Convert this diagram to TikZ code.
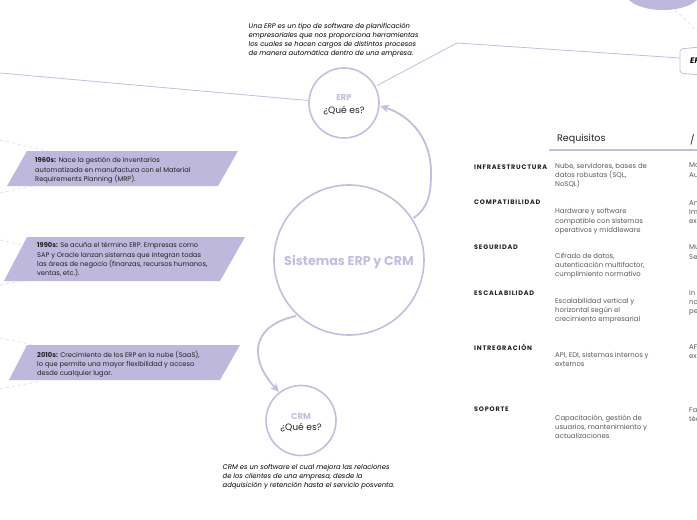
\documentclass[tikz,border=0pt]{standalone}
\usepackage{fontspec}
\setmainfont{Poppins}
\usetikzlibrary{arrows.meta}
\definecolor{lav}{HTML}{BDB8DC}
\definecolor{lavd}{HTML}{C3BEE0}
\definecolor{ink}{HTML}{222222}
\definecolor{soft}{HTML}{E4E2F0}
\tikzset{
  x=1pt,y=-1pt,
  ring/.style={circle,draw=lavd,line width=1.6pt,fill=white,inner sep=0pt,align=center},
  link/.style={draw=lavd,line width=0.8pt},
  curved/.style={draw=lavd,line width=1.8pt},
  tail/.style={draw=soft,line width=0.8pt,dashed},
  para/.style={fill=lav,draw=none},
  body/.style={anchor=north west,inner sep=0pt,align=left,font=\fontsize{6.7}{9.1}\selectfont,text=ink},
  ital/.style={body,font=\fontsize{6.77}{9.1}\selectfont\itshape,text=black},
  rowhead/.style={anchor=north west,inner sep=0pt,font=\fontsize{6.5}{9}\selectfont\bfseries\addfontfeature{LetterSpace=12},text=ink},
  cell/.style={anchor=north west,inner sep=0pt,align=left,font=\fontsize{6.9}{9.1}\selectfont,text=black!65},
}
\begin{document}
\begin{tikzpicture}
\useasboundingbox (0,0) rectangle (697,520);
\clip (0,0) rectangle (697,520);
\fill[white] (0,0) rectangle (697,520);
% top right blob
\fill[lav] (663,-8) ellipse (38 and 18);
\coordinate (t1a) at (675,10); \coordinate (t1b) at (697,31);
\draw[tail] (t1a) -- (t1b);
% left tails
\coordinate (la) at (0,140); \coordinate (lb) at (48,151);
\coordinate (lc) at (0,193); \coordinate (ld) at (32,186);
\coordinate (le) at (0,240); \coordinate (lf) at (28,246);
\coordinate (lg) at (0,285); \coordinate (lh) at (20,281);
\coordinate (li) at (0,338); \coordinate (lj) at (33,345);
\coordinate (lk) at (0,389); \coordinate (ll) at (42,381);
\draw[tail] (la)--(lb); \draw[tail] (lc)--(ld); \draw[tail] (le)--(lf);
\draw[tail] (lg)--(lh); \draw[tail] (li)--(lj); \draw[tail] (lk)--(ll);
% parallelograms
\fill[para] (27,151)--(238,151)--(218,186)--(7,186)--cycle;
\fill[para] (27,237)--(245,237)--(220,281)--(4,281)--cycle;
\fill[para] (27,345)--(240,345)--(220,380)--(9,380)--cycle;
\node[body] (p1) at (35,157.5) {\textbf{1960s:} Nace la gestión de inventarios\\automatizada en manufactura con el Material\\Requirements Planning (MRP).};
\node[body] (p2) at (37,242.5) {\textbf{1990s:} Se acuña el término ERP. Empresas como\\SAP y Oracle lanzan sistemas que integran todas\\las áreas de negocio (finanzas, recursos humanos,\\ventas, etc.).};
\node[body] (p3) at (37,351) {\textbf{2010s:} Crecimiento de los ERP en la nube (SaaS),\\lo que permite una mayor flexibilidad y acceso\\desde cualquier lugar.};
% circles
\node[ring,minimum size=150pt] (main) at (349,260) {};
\node[ring,minimum size=70pt] (erp) at (344,103) {};
\node[ring,minimum size=70pt] (crm) at (301,420.5) {};
\node[font=\fontsize{12.7}{15}\selectfont\bfseries,text=lavd] (mainl) at (349,262) {Sistemas ERP y CRM};
\node[font=\fontsize{8.5}{11}\selectfont\bfseries,text=lavd] (erpt) at (344,98) {ERP};
\node[font=\fontsize{9.2}{11}\selectfont,text=ink] (erpq) at (344,110.5) {¿Qué es?};
\node[font=\fontsize{8.5}{11}\selectfont\bfseries,text=lavd] (crmt) at (301,416) {CRM};
\node[font=\fontsize{9.2}{11}\selectfont,text=ink] (crmq) at (301,428) {¿Qué es?};
% description texts
\node[ital] (d1) at (248.5,22.7) {Una ERP es un tipo de software de planificación\\empresariales que nos proporciona herramientas\\los cuales se hacen cargos de distintos procesos\\de manera automática dentro de una empresa.};
\node[ital] (d2) at (222.5,464) {CRM es un software el cual mejora las relaciones\\de los clientes de una empresa, desde la\\adquisición y retención hasta el servicio posventa.};
% connectors
\coordinate (farl) at (0,73);
\draw[link] (erp.west |- 0,100.5) -- (farl);
\draw[draw=lavd,line width=0.8pt,fill=white,rounded corners=2pt] (700,47) -- (680,49) -- (680,73) -- (700,75);
\node[anchor=west,inner sep=0pt,font=\fontsize{8}{10}\selectfont\bfseries\itshape] (eft) at (690,61) {EF};
\coordinate (bend) at (457,43);
\coordinate (efin) at (680,58);
\draw[link] (377,85.5) -- (bend) -- (efin);
\draw[curved,-{Stealth[length=9pt,width=8pt]}] (413.5,218) .. controls (430,207) and (431,190) .. (431,172) .. controls (431,140) and (412,116) .. (380,106);
\draw[curved,-{Stealth[length=9pt,width=8pt]}] (296,316) .. controls (268,322) and (257,337) .. (258,353) .. controls (259,368) and (268,380) .. (279,392);
% table
\node[anchor=west,inner sep=0pt,font=\fontsize{9.5}{11}\selectfont,text=ink] (h1) at (557,139.5) {Requisitos};
\node[anchor=west,inner sep=0pt,font=\fontsize{9.5}{11}\selectfont,text=ink] (h2) at (690,139.5) {/};
\coordinate (ra) at (549,150); \coordinate (rb) at (697,150);
\draw[draw=lavd,line width=1.5pt] (ra) -- (rb);
\node[rowhead] (r1) at (474,165) {INFRAESTRUCTURA};
\node[rowhead] (r2) at (474,200) {COMPATIBILIDAD};
\node[rowhead] (r3) at (474,245) {SEGURIDAD};
\node[rowhead] (r4) at (474,290.5) {ESCALABILIDAD};
\node[rowhead] (r5) at (474,344) {INTREGRACIÓN};
\node[rowhead] (r6) at (474,407) {SOPORTE};
\node[cell] (c1) at (555,163) {Nube, servidores, bases de\\datos robustas (SQL,\\NoSQL)};
\node[cell] (c2) at (555,208.5) {Hardware y software\\compatible con sistemas\\operativos y middleware};
\node[cell] (c3) at (555,253) {Cifrado de datos,\\autenticación multifactor,\\cumplimiento normativo};
\node[cell] (c4) at (555,298) {Escalabilidad vertical y\\horizontal según el\\crecimiento empresarial};
\node[cell] (c5) at (555,352) {API, EDI, sistemas internos y\\externos};
\node[cell] (c6) at (555,415) {Capacitación, gestión de\\usuarios, mantenimiento y\\actualizaciones};
\node[cell] (e1) at (689,163) {Mo\\Au};
\node[cell] (e2) at (689,200.5) {An\\Im\\ex};
\node[cell] (e3) at (689,245) {Mu\\Se};
\node[cell] (e4) at (689,290.5) {In\\no\\pe};
\node[cell] (e5) at (689,344) {AF\\ex};
\node[cell] (e6) at (689,407) {Fa\\téc};
\end{tikzpicture}
\end{document}
